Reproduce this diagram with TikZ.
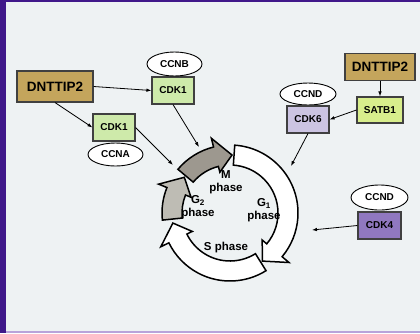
\documentclass[tikz,border=0pt]{standalone}
\usepackage{fontspec}
\setmainfont{Liberation Sans}
\usetikzlibrary{arrows.meta,shapes.geometric}

\definecolor{slidebg}{HTML}{EEF2F3}
\definecolor{slidebar}{HTML}{40188A}
\definecolor{slideline}{HTML}{B9A3DA}
\definecolor{tanbox}{HTML}{C4A55C}
\definecolor{cdkgreen}{HTML}{CEEAAA}
\definecolor{satbgreen}{HTML}{D8EE8C}
\definecolor{cdksix}{HTML}{CCC4E2}
\definecolor{cdkfour}{HTML}{9078C0}
\definecolor{grayG}{HTML}{BEBCB4}
\definecolor{grayM}{HTML}{9D988F}

% one block arrow of the cycle, running clockwise from #1 to #2 (degrees)
\newcommand{\phasearrow}[3]{%
  \filldraw[line width=1.5pt, fill=#3, line join=miter]
    (#1:68pt) arc[start angle=#1, end angle=#2+16, radius=68pt]
    -- ({#2+16}:77pt) -- (#2:58pt) -- ({#2+16}:42pt) -- ({#2+16}:48pt)
    arc[start angle=#2+16, end angle=#1, radius=48pt] -- cycle;}

\begin{document}
\begin{tikzpicture}[x=1pt, y=-1pt,
    box/.style={draw=black!75, line width=1.1pt, inner sep=0pt,
      font=\bfseries\fontsize{10}{11}\selectfont},
    cyclin/.style={draw, ellipse, fill=white, line width=0.9pt, inner sep=0pt,
      font=\bfseries\fontsize{10}{11}\selectfont},
    link/.style={-{Latex[length=5pt,width=3.6pt]}, line width=0.8pt},
    phase/.style={align=center, font=\bfseries\fontsize{11.5}{12.5}\selectfont}]

    % Slide background, purple bar on the left, lines at top and bottom
    \useasboundingbox (0,0) rectangle (420,333);
    \fill[slidebg] (0,0) rectangle (420,333);
    \fill[slidebar] (0,0) rectangle (6,333);
    \fill[slidebar] (0,0) rectangle (420,2);
    \fill[slideline] (6,331) rectangle (420,333);

    % The cell cycle: G1, S, G2 and M block arrows around one centre
    \begin{scope}[shift={(230,213)}]
        \phasearrow{-58}{-170}{white}
        \phasearrow{86}{-56}{white}
        \phasearrow{-174}{-218}{grayG}
        \phasearrow{140}{88}{grayM}
    \end{scope}

    % Phase labels
    \node[phase] (mph) at (226,182) {M\\phase};
    \node[phase] (gtwo) at (198,207) {G\textsubscript{2}\\phase};
    \node[phase] (gone) at (264,210) {G\textsubscript{1}\\phase};
    \node[phase] (sph) at (226,248) {S phase};

    % Left group: DNTTIP2 and the two CDK1 complexes
    \node[box, fill=tanbox, minimum width=76pt, minimum height=31pt,
      font=\bfseries\fontsize{13.5}{15}\selectfont] (dnttipL) at (55,86.5) {DNTTIP2};
    \node[box, fill=cdkgreen, minimum width=42pt, minimum height=27pt] (cdkB) at (173,90.5) {CDK1};
    \node[cyclin, minimum width=55pt, minimum height=24pt] (ccnb) at (174.5,64) {CCNB};
    \node[box, fill=cdkgreen, minimum width=42pt, minimum height=27pt] (cdkA) at (114,127.5) {CDK1};
    \node[cyclin, minimum width=55pt, minimum height=23pt] (ccna) at (115.5,154.5) {CCNA};

    % Right group: DNTTIP2, SATB1 and CDK6 with CCND
    \node[box, fill=tanbox, minimum width=70pt, minimum height=27pt,
      font=\bfseries\fontsize{13.5}{15}\selectfont] (dnttipR) at (380,67) {DNTTIP2};
    \node[box, fill=satbgreen, minimum width=46pt, minimum height=26pt] (satb) at (380,110) {SATB1};
    \node[cyclin, minimum width=56pt, minimum height=22pt] (ccndA) at (308,94) {CCND};
    \node[box, fill=cdksix, minimum width=42pt, minimum height=27pt] (cdksix) at (308,119.5) {CDK6};

    % CDK4 with CCND
    \node[cyclin, minimum width=57pt, minimum height=25pt] (ccndB) at (379.5,197.5) {CCND};
    \node[box, fill=cdkfour, minimum width=43pt, minimum height=27pt] (cdkfour) at (379.5,225.5) {CDK4};

    % Free ends of the arrows at the cycle
    \coordinate (hitB) at (199,147);
    \coordinate (hitA) at (173,165);
    \coordinate (hitsix) at (291,166);
    \coordinate (hitfour) at (312,230);

    % Arrows
    \draw[link] (dnttipL.east) -- (cdkB.west);
    \draw[link] (dnttipL.south) -- (cdkA.west);
    \draw[link] (cdkB.south) -- (hitB);
    \draw[link] (cdkA.east) -- (hitA);
    \draw[link] (dnttipR.south) -- (satb.north);
    \draw[link] (satb.west) -- (cdksix.east);
    \draw[link] (cdksix.south) -- (hitsix);
    \draw[link] (cdkfour.west) -- (hitfour);

\end{tikzpicture}
\end{document}
